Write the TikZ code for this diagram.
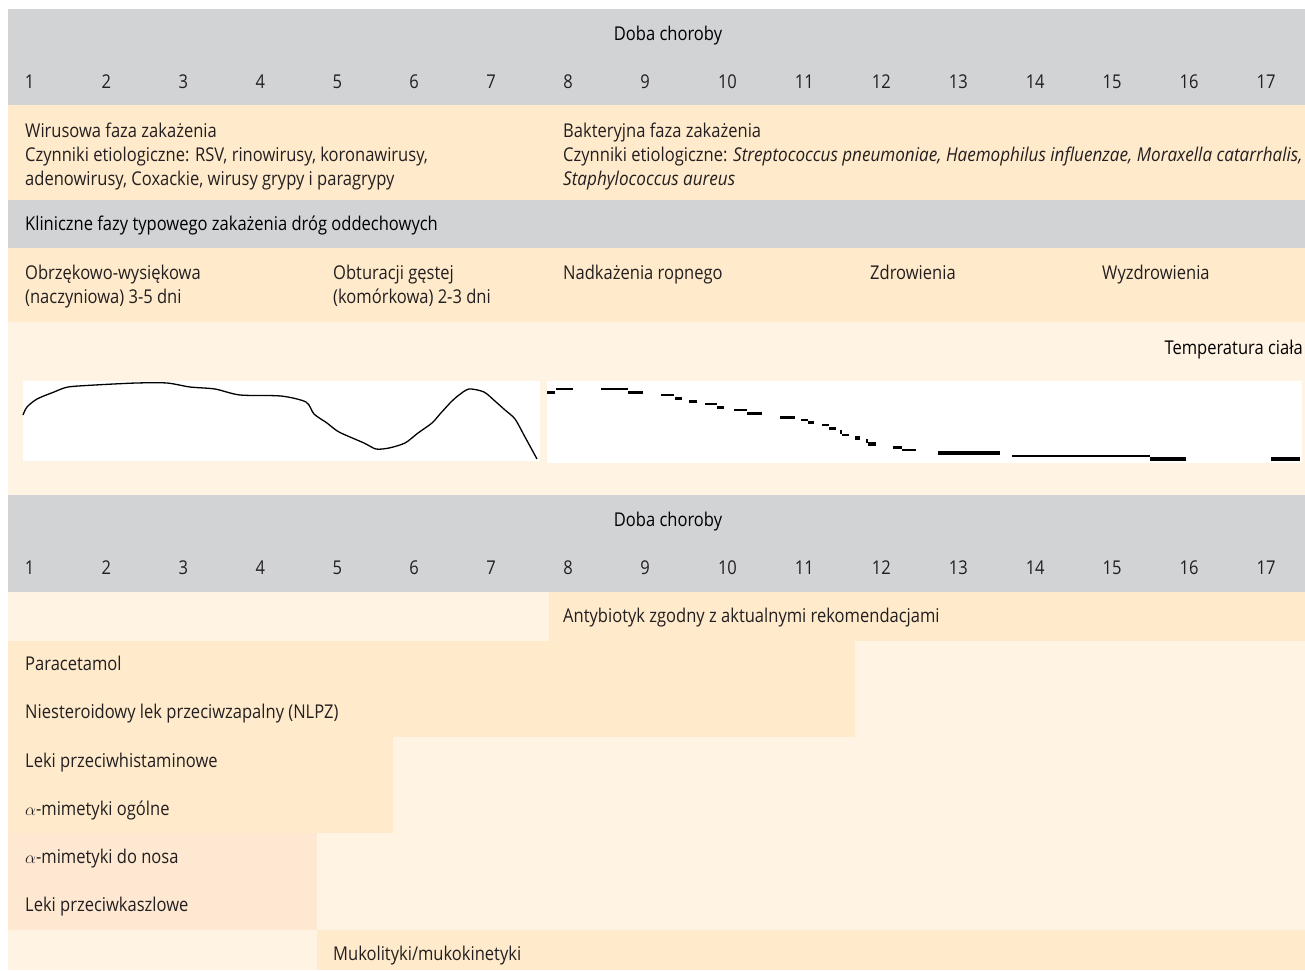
\documentclass[tikz,border=0pt]{standalone}
\usepackage{fontspec}
\setmainfont[FakeStretch=0.87, ItalicFeatures={FakeStretch=0.9}]{Open Sans}
\definecolor{hdrgray}{HTML}{D1D3D4}
\definecolor{orng}{HTML}{FFEBCC}
\definecolor{crm}{HTML}{FFF4E3}
\definecolor{pch}{HTML}{FEE8D1}
\definecolor{txtc}{HTML}{231F20}
\tikzset{
  txt/.style={font=\fontsize{19}{24}\selectfont, inner sep=0pt, text=txtc, anchor=base west},
  num/.style={font=\fontsize{19}{24}\selectfont, inner sep=0pt, text=txtc, anchor=base},
  hdr/.style={font=\fontsize{19}{24}\selectfont, inner sep=0pt, text=black},
  curveline/.style={line width=1.3pt, black, line join=round},
  thinseg/.style={line width=1.2pt, black},
  thickseg/.style={line width=3.2pt, black},
}
\begin{document}
\begin{tikzpicture}[x=1pt,y=-1pt]
\useasboundingbox (0,0) rectangle (1305,970);
\fill[white] (0,0) rectangle (1305,970);
% backgrounds
\fill[hdrgray] (8,9) rectangle (1305,105);
\fill[orng] (8,105) rectangle (1305,200);
\fill[hdrgray] (8,200) rectangle (1305,248);
\fill[orng] (8,248) rectangle (1305,322);
\fill[crm] (8,322) rectangle (1305,495);
\fill[white] (23,381) rectangle (540,461);
\fill[white] (547,381) rectangle (1302,463);
\fill[hdrgray] (8,495) rectangle (1305,592);
\fill[crm] (8,592) rectangle (1305,970);
\fill[orng] (549,592) rectangle (1305,640.5);
\fill[orng] (8,640.5) rectangle (855,737);
\fill[orng] (8,737) rectangle (393,833);
\fill[pch] (8,833) rectangle (317,930);
\fill[orng] (317,930) rectangle (1305,970);

% header 1
\node[hdr, anchor=base] (doba1) at (668,40) {Doba choroby};
\foreach \i in {1,...,9} {
  \node[num] (da\i) at ({29.5+76.94*(\i-1)},88) {\i};
}
\foreach \i in {10,...,17} {
  \node[num] (da\i) at ({35+76.94*(\i-1)},88) {\i};
}
% infection phases
\node[txt] (wir1) at (25,137) {Wirusowa faza zakażenia};
\node[txt] (wir2) at (25,161) {Czynniki etiologiczne: RSV, rinowirusy, koronawirusy,};
\node[txt] (wir3) at (25,185) {adenowirusy, Coxackie, wirusy grypy i paragrypy};
\node[txt] (bak1) at (563,137) {Bakteryjna faza zakażenia};
\node[txt] (bak2) at (563,161) {Czynniki etiologiczne: \textit{Streptococcus pneumoniae, Haemophilus influenzae, Moraxella catarrhalis,}};
\node[txt] (bak3) at (563,185) {\textit{Staphylococcus aureus}};
% clinical phases
\node[hdr, anchor=base west] (klin) at (25,230) {Kliniczne fazy typowego zakażenia dróg oddechowych};
\node[txt] (ph1a) at (25,279) {Obrzękowo-wysiękowa};
\node[txt] (ph1b) at (25,303) {(naczyniowa) 3-5 dni};
\node[txt] (ph2a) at (333,279) {Obturacji gęstej};
\node[txt] (ph2b) at (333,303) {(komórkowa) 2-3 dni};
\node[txt] (ph3) at (563,279) {Nadkażenia ropnego};
\node[txt] (ph4) at (870,279) {Zdrowienia};
\node[txt] (ph5) at (1102,279) {Wyzdrowienia};
% temperature
\node[hdr, anchor=base east] (temp) at (1303,354) {Temperatura ciała};
\draw[curveline] plot[smooth, tension=0.45] coordinates {
 (23,415) (27,407) (37,399) (54,392) (68,387) (95,385) (136,383) (167,383)
 (190,387) (215,389) (240,395) (281,396) (306,402) (314,414) (327,423)
 (339,432) (364,443) (376,449) (389,448) (405,443) (418,433) (432,423)
 (440,414) (451,402) (459,395) (469,389) (484,392) (496,402) (505,410)
 (515,419) (525,437) (537,459)};
\draw[thickseg] (547,392.5) -- (555,392.5);
\draw[thinseg] (556,389) -- (573,389);
\draw[thinseg] (601,389) -- (628,389);
\draw[thickseg] (628,392.5) -- (643,392.5);
\draw[thinseg] (661,395) -- (674,395);
\draw[thickseg] (675,398.5) -- (682,398.5);
\draw[thickseg] (689,401.5) -- (697,401.5);
\draw[thinseg] (705,404) -- (717,404);
\draw[thickseg] (717,407.5) -- (724,407.5);
\draw[thinseg] (734,410) -- (747,410);
\draw[thickseg] (747,413.5) -- (762,413.5);
\draw[thickseg] (780,417.5) -- (795,417.5);
\draw[thinseg] (801,420) -- (808,420);
\draw[thickseg] (808,422.5) -- (814,422.5);
\draw[thinseg] (822,425) -- (829,425);
\draw[thickseg] (829,428.5) -- (836,428.5);
\draw[thickseg] (840,432) -- (842,432);
\draw[thinseg] (842,435) -- (849,435);
\draw[thickseg] (855,438) -- (860,438);
\draw[thickseg] (866,441) -- (868,441);
\draw[thickseg] (868,444) -- (876,444);
\draw[thickseg] (893,447.5) -- (902,447.5);
\draw[thinseg] (902,450) -- (916,450);
\draw[thickseg] (938,453) -- (1000,453);
\draw[thinseg] (1012,456) -- (1150,456);
\draw[thickseg] (1150,459) -- (1186,459);
\draw[thickseg] (1271,459) -- (1300,459);
% header 2
\node[hdr, anchor=base] (doba2) at (668,526) {Doba choroby};
\foreach \i in {1,...,9} {
  \node[num] (db\i) at ({29.5+76.94*(\i-1)},574) {\i};
}
\foreach \i in {10,...,17} {
  \node[num] (db\i) at ({35+76.94*(\i-1)},574) {\i};
}
% treatments
\node[txt] (antyb) at (563,622) {Antybiotyk zgodny z aktualnymi rekomendacjami};
\node[txt] (parac) at (25,670) {Paracetamol};
\node[txt] (nlpz) at (25,718) {Niesteroidowy lek przeciwzapalny (NLPZ)};
\node[txt] (hist) at (25,767) {Leki przeciwhistaminowe};
\node[txt] (amog) at (25,815) {$\alpha$-mimetyki ogólne};
\node[txt] (amnos) at (25,863) {$\alpha$-mimetyki do nosa};
\node[txt] (kasz) at (25,911) {Leki przeciwkaszlowe};
\node[txt] (muko) at (333,960) {Mukolityki/mukokinetyki};
\end{tikzpicture}
\end{document}
